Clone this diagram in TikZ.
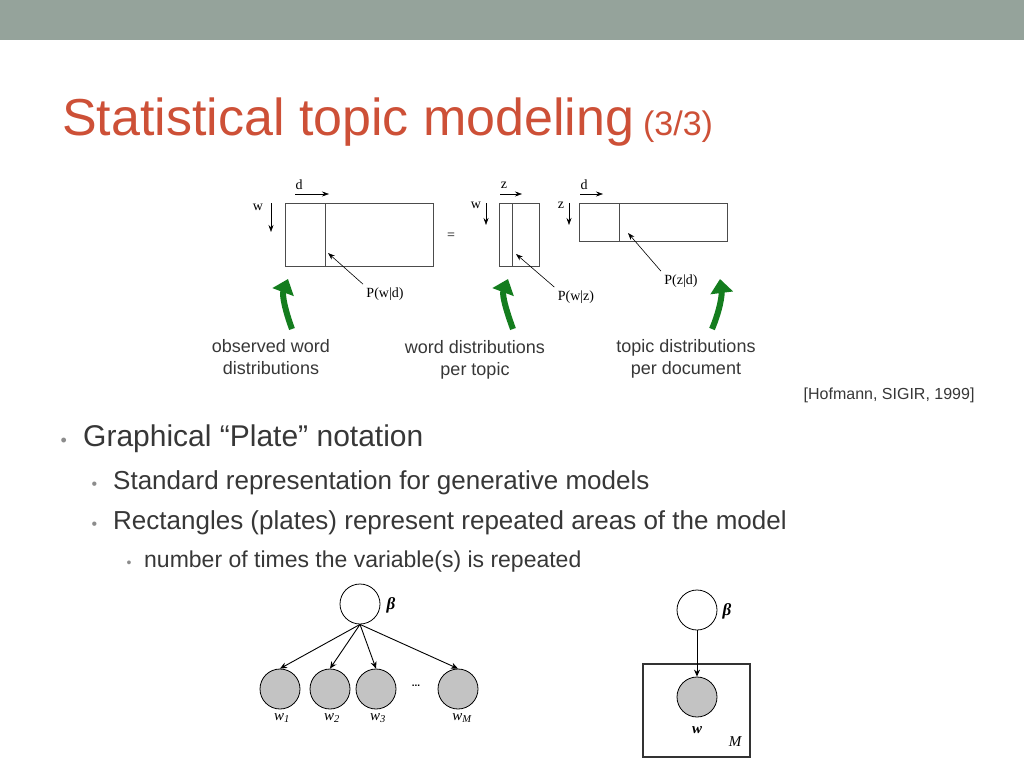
\documentclass[tikz,border=0pt]{standalone}
\usepackage{fontspec}
\setmainfont{Liberation Sans}
\newfontfamily\serifx{Liberation Serif}
\usetikzlibrary{arrows.meta}
\definecolor{barc}{RGB}{149,163,155}
\definecolor{titlec}{RGB}{205,80,55}
\definecolor{txt}{RGB}{55,55,55}
\definecolor{bulc}{RGB}{140,140,140}
\definecolor{grn}{RGB}{20,125,30}
\definecolor{nodeg}{RGB}{195,195,195}
\begin{document}
\begin{tikzpicture}[x=1pt,y=-1pt,
  mat/.style={draw=black!70,line width=0.8pt},
  sm/.style={font=\serifx\fontsize{14}{14}\selectfont},
  ptr/.style={-{Stealth[length=7pt,width=5pt]},line width=0.6pt},
  garr/.style={grn,line width=6pt,-{Triangle[length=14pt,width=22pt]}},
  captxt/.style={font=\fontsize{18}{22}\selectfont,text=txt,align=center},
  rv/.style={circle,draw,line width=0.8pt,minimum size=40pt,inner sep=0pt},
  obs/.style={rv,fill=nodeg},
  gl/.style={font=\serifx\itshape\fontsize{15}{15}\selectfont},
  betastyle/.style={font=\serifx\bfseries\itshape\fontsize{17}{17}\selectfont},
  edge/.style={-{Stealth[length=7pt,width=6pt]},line width=0.9pt}]
\useasboundingbox (0,0) rectangle (1024,768);
\fill[barc] (0,0) rectangle (1024,40);
\node[anchor=base west,text=titlec,inner sep=0pt] (title) at (62,135) {\fontsize{52}{52}\selectfont Statistical topic modeling\,\fontsize{34}{34}\selectfont(3/3)};
% matrices
\draw[mat] (285,203) rectangle (433,266); \draw[mat] (325,203) -- (325,266);
\draw[mat] (499,203) rectangle (539,266); \draw[mat] (512,203) -- (512,266);
\draw[mat] (579,203) rectangle (727,241); \draw[mat] (619,203) -- (619,241);
\node[sm] (d1) at (299,185) {d}; \coordinate (d1a) at (295,194); \coordinate (d1b) at (329,194); \draw[ptr] (d1a) -- (d1b);
\node[sm] (w1) at (258,207) {w}; \coordinate (w1a) at (271,203); \coordinate (w1b) at (271,232); \draw[ptr] (w1a) -- (w1b);
\node[sm] (eq) at (451,236) {=};
\node[sm] (z2) at (504,185) {z}; \coordinate (z2a) at (500,194); \coordinate (z2b) at (522,194); \draw[ptr] (z2a) -- (z2b);
\node[sm] (w2) at (476,205) {w}; \coordinate (w2a) at (486,203); \coordinate (w2b) at (486,225); \draw[ptr] (w2a) -- (w2b);
\node[sm] (d3) at (584,185) {d}; \coordinate (d3a) at (580,194); \coordinate (d3b) at (603,194); \draw[ptr] (d3a) -- (d3b);
\node[sm] (z3) at (561,205) {z}; \coordinate (z3a) at (569,203); \coordinate (z3b) at (569,225); \draw[ptr] (z3a) -- (z3b);
\node[sm] (pwd) at (385,294) {P(w|d)}; \coordinate (pwdt) at (328,253); \draw[ptr] (pwd.north west) -- (pwdt);
\node[sm] (pwz) at (576,297) {P(w|z)}; \coordinate (pwzt) at (516,254); \draw[ptr] (pwz.north west) -- (pwzt);
\node[sm] (pzd) at (681,281) {P(z|d)}; \coordinate (pzdt) at (628,233); \draw[ptr] (pzd.north west) -- (pzdt);
% green arrows
\coordinate (g1a) at (292,329); \coordinate (g1b) at (288,279);
\draw[garr] (g1a) .. controls (285,310) and (282,295) .. (g1b);
\coordinate (g2a) at (513,329); \coordinate (g2b) at (508,279);
\draw[garr] (g2a) .. controls (506,310) and (502,295) .. (g2b);
\coordinate (g3a) at (712,329); \coordinate (g3b) at (720,279);
\draw[garr] (g3a) .. controls (720,310) and (722,295) .. (g3b);
\node[captxt] (c1) at (271,357) {observed word\\distributions};
\node[captxt] (c2) at (475,360) {word distributions\\per topic};
\node[captxt] (c3) at (686,359) {topic distributions\\per document};
\node[anchor=east,text=txt,font=\fontsize{16}{16}\selectfont] (ref) at (978,395) {[Hofmann, SIGIR, 1999]};
% bullets
\node[anchor=base west,text=bulc,font=\fontsize{18}{18}\selectfont] (b1) at (57,446) {•};
\node[anchor=base west,text=txt,font=\fontsize{30}{30}\selectfont,inner sep=0pt] (t1) at (83,446) {Graphical “Plate” notation};
\node[anchor=base west,text=bulc,font=\fontsize{16}{16}\selectfont] (b2) at (88,489) {•};
\node[anchor=base west,text=txt,font=\fontsize{26}{26}\selectfont,inner sep=0pt] (t2) at (113,489) {Standard representation for generative models};
\node[anchor=base west,text=bulc,font=\fontsize{16}{16}\selectfont] (b3) at (88,529) {•};
\node[anchor=base west,text=txt,font=\fontsize{26}{26}\selectfont,inner sep=0pt] (t3) at (113,529) {Rectangles (plates) represent repeated areas of the model};
\node[anchor=base west,text=bulc,font=\fontsize{14}{14}\selectfont] (b4) at (123,567) {•};
\node[anchor=base west,text=txt,font=\fontsize{23}{23}\selectfont,inner sep=0pt] (t4) at (144,567) {number of times the variable(s) is repeated};
% graphical model left
\node[rv] (beta) at (360,604) {};
\node[betastyle] (betal) at (391,605) {β};
\node[obs] (x1) at (280,689) {};
\node[obs] (x2) at (330,689) {};
\node[obs] (x3) at (376,689) {};
\node[obs] (xm) at (458,689) {};
\node[font=\bfseries] (dots) at (416,686) {...};
\foreach \n in {x1,x2,x3,xm} \draw[edge] (beta.south) -- (\n.north);
\node[gl] (l1) at (282,718) {w\textsubscript{1}};
\node[gl] (l2) at (332,718) {w\textsubscript{2}};
\node[gl] (l3) at (378,718) {w\textsubscript{3}};
\node[gl] (lm) at (462,718) {w\textsubscript{M}};
% plate
\node[rv] (beta2) at (697,610) {};
\node[betastyle] (betal2) at (727,611) {β};
\draw[line width=1.2pt,black!80] (643,664) rectangle (750,757);
\node[obs] (w) at (697,697) {};
\draw[edge] (beta2) -- (w);
\node[gl,font=\serifx\bfseries\itshape\fontsize{15}{15}\selectfont] (wl) at (697,730) {w};
\node[gl] (ml) at (735,742) {M};
\end{tikzpicture}
\end{document}
